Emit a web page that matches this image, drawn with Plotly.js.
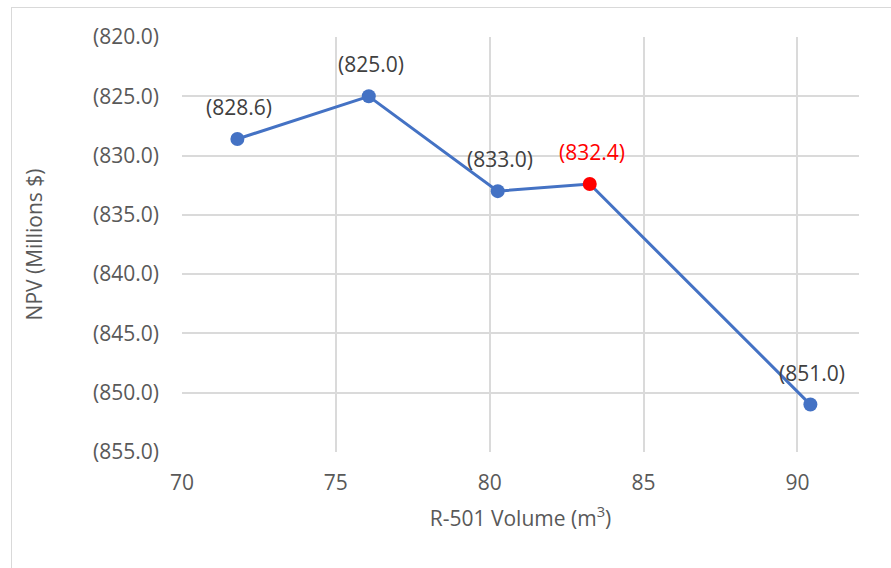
<!DOCTYPE html>
<html>
<head>
<meta charset="utf-8">
<script src="https://cdn.plot.ly/plotly-3.0.1.min.js"></script>
<style>
  html, body { margin: 0; padding: 0; background: #ffffff; overflow: hidden; }
  #wrap { position: relative; width: 891px; height: 568px; }
  #chart { position: absolute; left: 0; top: 0; width: 891px; height: 568px; }
  #frame { position: absolute; left: 11px; top: 7px; width: 920px; height: 600px;
           border-left: 1px solid #d9d9d9; border-top: 1px solid #d9d9d9; pointer-events: none; }
</style>
</head>
<body>
<div id="wrap">
  <div id="chart"></div>
  <div id="frame"></div>
</div>
<script>
// Reactor volume (m³) against project NPV (millions $, negative)
const volumes = [71.8, 76.07, 80.26, 83.25, 90.42];
const npv = [-828.6, -825.0, -833.0, -832.4, -851.0];
const pointColors = ['#4472C4', '#4472C4', '#4472C4', '#FF0000', '#4472C4'];
const labelColors = ['#404040', '#404040', '#404040', '#FF0000', '#404040'];
const yTicks = [-820, -825, -830, -835, -840, -845, -850, -855];
const xTicks = [70, 75, 80, 85, 90];

const paren = v => '(' + Math.abs(v).toFixed(1) + ')';
const FONT = 'Open Sans, Liberation Sans, sans-serif';

const trace = {
  x: volumes,
  y: npv,
  type: 'scatter',
  mode: 'lines+markers',
  line: { color: '#4472C4', width: 3 },
  marker: { size: 14, color: pointColors },
  hoverinfo: 'none'
};

const annotations = volumes.map((v, i) => ({
  x: v, y: npv[i], xref: 'x', yref: 'y',
  text: paren(npv[i]),
  showarrow: false,
  xshift: 2, yshift: 32,
  font: { family: FONT, size: 21, color: labelColors[i] }
}));

const layout = {
  width: 891, height: 568,
  margin: { l: 182, r: 32, t: 37, b: 116 },
  paper_bgcolor: '#ffffff',
  plot_bgcolor: '#ffffff',
  showlegend: false,
  font: { family: FONT, size: 21, color: '#595959' },
  xaxis: {
    range: [70, 92],
    tickvals: xTicks,
    ticktext: xTicks.map(String),
    showgrid: true, gridcolor: '#dadada', gridwidth: 2,
    zeroline: false, showline: false,
    ticks: '', ticklabelstandoff: 16,
    tickfont: { family: FONT, size: 21, color: '#595959' },
    title: { text: 'R-501 Volume (m<sup>3</sup>)', standoff: 16,
             font: { family: FONT, size: 21, color: '#595959' } },
    automargin: false,
    fixedrange: true
  },
  yaxis: {
    range: [-855, -820],
    tickvals: yTicks,
    ticktext: yTicks.map(paren),
    showgrid: true, gridcolor: '#dadada', gridwidth: 2,
    zeroline: false, showline: false,
    ticks: '', ticklabelstandoff: 22,
    tickfont: { family: FONT, size: 21, color: '#595959' },
    title: { text: 'NPV (Millions $)', standoff: 44,
             font: { family: FONT, size: 21, color: '#595959' } },
    automargin: false,
    fixedrange: true
  },
  annotations: annotations
};

Plotly.newPlot('chart', [trace], layout, { displayModeBar: false, staticPlot: true });
</script>
</body>
</html>
